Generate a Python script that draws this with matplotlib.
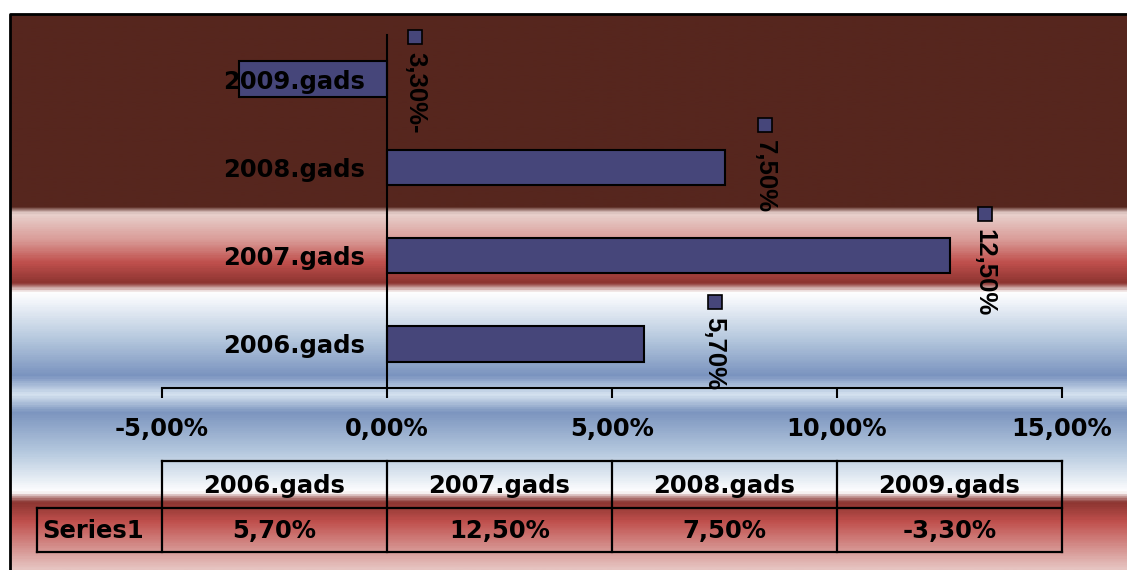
import numpy as np
import matplotlib
matplotlib.use("Agg")
import matplotlib.pyplot as plt
from matplotlib.colors import LinearSegmentedColormap
from matplotlib.transforms import offset_copy

categories = ["2006.gads", "2007.gads", "2008.gads", "2009.gads"]
values = [5.70, 12.50, 7.50, -3.30]
series_name = "Series1"
x_ticks = [-5, 0, 5, 10, 15]

W, H = 1127, 570
fig = plt.figure(figsize=(W / 100, H / 100), dpi=100)

# background gradient (pixel coordinates)
bg = fig.add_axes([0, 0, 1, 1], zorder=0)
bg.set_xlim(0, W)
bg.set_ylim(H, 0)
bg.axis("off")

stops = [
    (14, "#56261e"), (206, "#56261e"), (213, "#e9d3cf"), (240, "#d99a96"),
    (262, "#c0504d"), (283, "#8c3430"), (292, "#ffffff"), (300, "#f4f7fb"),
    (340, "#b4c7dd"), (376, "#7a93bf"), (395, "#d6e3f0"), (413, "#7c95bf"),
    (455, "#b8cbe0"), (493, "#ffffff"), (503, "#8a3430"), (523, "#c0504d"),
    (570, "#e6c4c1"),
]
y0, y1 = stops[0][0], stops[-1][0]
cmap = LinearSegmentedColormap.from_list(
    "bg", [((y - y0) / (y1 - y0), c) for y, c in stops])
grad = np.linspace(0, 1, 600).reshape(-1, 1)
bg.imshow(grad, cmap=cmap, aspect="auto", extent=[10, W, y1, y0],
          interpolation="bilinear")
bg.plot([10, 10, W], [H, 14, 14], color="black", lw=2)

# main plot area
left, right, top, bottom = 162, 1062, 35, 388
ax = fig.add_axes([left / W, (H - bottom) / H, (right - left) / W, (bottom - top) / H],
                  zorder=1)
ax.patch.set_alpha(0)

pos = np.arange(len(categories))
ax.barh(pos, values, height=0.4, color="#46467a", edgecolor="black", lw=1.5)
ax.set_xlim(x_ticks[0], x_ticks[-1])
ax.set_ylim(-0.5, len(categories) - 0.5)

ax.spines["top"].set_visible(False)
ax.spines["right"].set_visible(False)
ax.spines["left"].set_position(("data", 0))
for s in ("left", "bottom"):
    ax.spines[s].set_linewidth(1.5)

ax.set_xticks(x_ticks)
ax.set_xticklabels([f"{t:.2f}%".replace(".", ",") for t in x_ticks])
ax.set_yticks(pos)
ax.set_yticklabels(categories)
ax.tick_params(axis="x", direction="out", length=7, width=1.5, pad=14)
ax.tick_params(axis="y", length=0, pad=16)
for lbl in ax.get_xticklabels() + ax.get_yticklabels():
    lbl.set_fontsize(17.5)
    lbl.set_fontweight("bold")

# data labels: legend key + rotated text
nudges = [71, 35, 40, 28]
for i, v in enumerate(values):
    txt = f"{abs(v):.2f}".replace(".", ",") + "%" + ("-" if v < 0 else "")
    xa = max(v, 0)
    tr = offset_copy(ax.transData, fig=fig, x=nudges[i], y=42, units="dots")
    ax.plot([xa], [i], "s", ms=10, mfc="#46467a", mec="black", mew=1.2,
            transform=tr, clip_on=False)
    ax.annotate(txt, (xa, i), xytext=(nudges[i], 27), textcoords="offset pixels",
                rotation=270, ha="center", va="top", fontsize=18.5,
                fontweight="bold", family="Liberation Sans", annotation_clip=False)

# data table
cols = np.linspace(left, right, len(categories) + 1)
t_top, t_mid, t_bot, t_left = 461, 508, 552, 37
lk = dict(color="black", lw=1.6)
bg.plot([left, right], [t_top, t_top], **lk)
bg.plot([t_left, right], [t_mid, t_mid], **lk)
bg.plot([t_left, right], [t_bot, t_bot], **lk)
bg.plot([t_left, t_left], [t_mid, t_bot], **lk)
for cx in cols:
    bg.plot([cx, cx], [t_top, t_bot], **lk)
tk = dict(fontsize=17.5, fontweight="bold", va="center")
for i, c in enumerate(categories):
    xc = (cols[i] + cols[i + 1]) / 2
    bg.text(xc, (t_top + t_mid) / 2 + 1, c, ha="center", **tk)
    bg.text(xc, (t_mid + t_bot) / 2 + 1, f"{values[i]:.2f}%".replace(".", ","),
            ha="center", **tk)
bg.text(t_left + 5, (t_mid + t_bot) / 2 + 1, series_name, ha="left", **tk)

fig.savefig("out.png", dpi=100)
